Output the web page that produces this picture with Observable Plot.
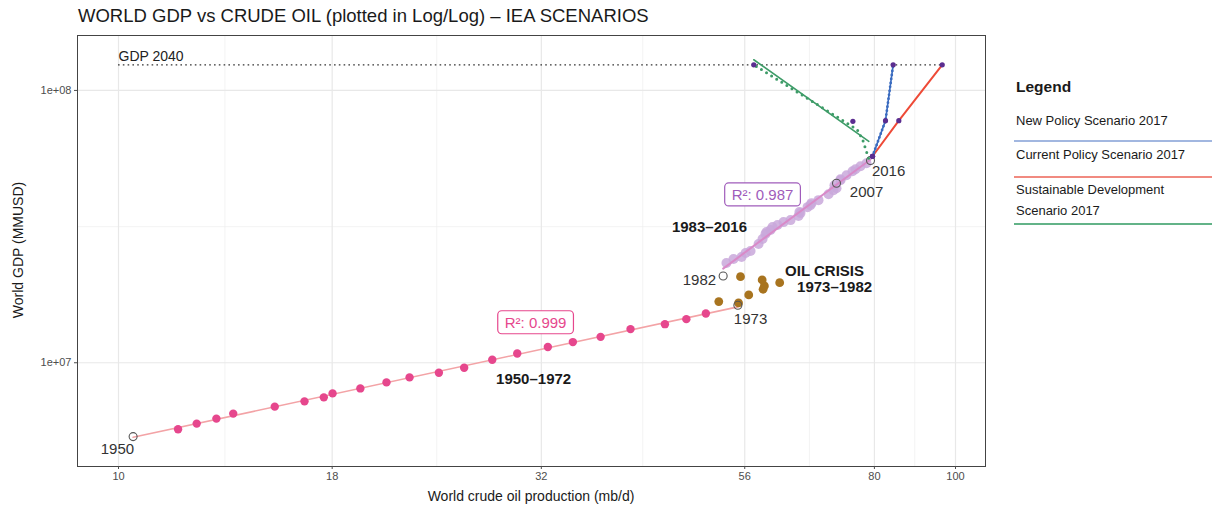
<!DOCTYPE html>
<html><head><meta charset="utf-8">
<script src="https://cdn.jsdelivr.net/npm/d3@7"></script>
<script src="https://cdn.jsdelivr.net/npm/@observablehq/plot@0.6"></script>
<style>
body{margin:0;background:#fff;font-family:"Liberation Sans",Arial,Helvetica,sans-serif;}
#wrap{position:relative;width:1228px;height:511px;overflow:hidden;}
#chart{position:absolute;left:0;top:0;}
#title{position:absolute;left:78px;top:5px;font-size:18.5px;color:#1a1a1a;white-space:nowrap;}
.axt{position:absolute;font-size:14px;color:#1a1a1a;white-space:nowrap;}
#xlab{left:531px;top:488px;transform:translateX(-50%);}
#ylab{left:18px;top:250px;transform:translate(-50%,-50%) rotate(-90deg);}
.lg{position:absolute;left:1016px;white-space:nowrap;color:#1a1a1a;font-size:13px;}
.lgt{font-weight:bold;font-size:15.5px;}
.ll{position:absolute;left:1014px;width:198px;height:2px;}
</style></head><body>
<div id="wrap">
  <div id="chart"></div>
  <div id="title">WORLD GDP vs CRUDE OIL (plotted in Log/Log) – IEA SCENARIOS</div>
  <div class="axt" id="xlab">World crude oil production (mb/d)</div>
  <div class="axt" id="ylab">World GDP (MMUSD)</div>
</div>
<script>
// ---------- data ----------
const earlyYears = [1950,1951,1952,1953,1954,1955,1956,1957,1958,1959,1960,1961,1962,1963,1964,1965,1966,1967,1968,1969,1970,1971,1972,1973];
const earlyOil = [10.41,11.78,12.40,13.09,13.71,15.37,16.68,17.59,18.02,19.45,20.90,22.27,24.14,25.88,27.96,29.95,32.58,34.90,37.67,40.90,44.96,47.69,50.32,54.95];
const earlyGdp = [5.356e6,5.697e6,5.978e6,6.236e6,6.505e6,6.90e6,7.215e6,7.463e6,7.718e6,8.05e6,8.47e6,8.837e6,9.192e6,9.587e6,1.026e7,1.082e7,1.142e7,1.191e7,1.245e7,1.329e7,1.386e7,1.446e7,1.516e7,1.627e7];

const crisisYears = [1974,1975,1976,1977,1978,1979,1980,1981];
const crisisOil = [55.05,52.14,56.62,58.90,59.11,61.65,58.75,55.35];
const crisisGdp = [1.659e7,1.677e7,1.775e7,1.862e7,1.915e7,1.969e7,2.014e7,2.071e7];

const lateYears = [1982,1983,1984,1985,1986,1987,1988,1989,1990,1991,1992,1993,1994,1995,1996,1997,1998,1999,2000,2001,2002,2003,2004,2005,2006,2007,2008,2009,2010,2011,2012,2013,2014,2015,2016];
const lateOil = [52.77,53.25,54.30,55.51,56.13,56.90,58.17,58.81,59.29,59.46,60.12,60.45,61.29,62.31,63.52,64.93,65.28,65.10,66.56,67.11,67.30,68.60,70.52,71.49,72.08,72.08,72.88,71.68,72.88,74.10,75.33,75.95,77.00,78.29,79.15];
const lateGdp = [2.083e7,2.324e7,2.404e7,2.445e7,2.529e7,2.572e7,2.729e7,2.847e7,2.969e7,3.020e7,3.071e7,3.150e7,3.203e7,3.285e7,3.341e7,3.456e7,3.544e7,3.574e7,3.728e7,3.792e7,3.856e7,3.955e7,4.159e7,4.302e7,4.375e7,4.563e7,4.680e7,4.487e7,4.721e7,4.883e7,5.050e7,5.136e7,5.267e7,5.402e7,5.527e7];

const markedYears = [1950,1973,1982,2007,2016];

const scenarioYears = [2016,2025,2040];
const npsOil = [79.59,82.48,84.24];
const npsGdp = [5.731e7,7.745e7,1.242e8];
const cpsOil = [79.59,85.56,96.41];
const cpsGdp = [5.731e7,7.745e7,1.242e8];
const sdsOil = [79.59,75.40,57.41];
const sdsGdp = [5.731e7,7.70e7,1.242e8];
const sdsPathOil = [78.73,77.43,76.31,57.41];
const sdsPathGdp = [5.635e7,6.61e7,7.18e7,1.242e8];
const sdsFitOil = [78.78,57.41];
const sdsFitGdp = [6.505e7,1.296e8];

const gdp2040 = 1.242e8;
const gdp2040Span = [10, 96.41];

const xTicks = [10,18,32,56,80,100];
const xMinor = [13.4,24,42.3,66.9,89.4];
const yTicks = [1e7,1e8];
const yTickLabels = ["1e+07","1e+08"];
const yMinor = [3.16e7];

const yearLabels = [
  {text:"1950", x:9.97, y:4.80e6},
  {text:"1973", x:56.9, y:1.45e7},
  {text:"1982", x:49.44, y:2.014e7},
  {text:"2007", x:78.29, y:4.23e7},
  {text:"2016", x:83.18, y:5.05e7}
];
const periodLabels = [
  {text:"1950–1972", x:31.33, y:8.74e6},
  {text:"1983–2016", x:50.82, y:3.15e7},
  {text:"OIL CRISIS", x:69.75, y:2.173e7},
  {text:"1973–1982", x:71.70, y:1.898e7}
];
const r2Labels = [
  {text:"R²: 0.999", x:31.5, y:1.40e7, color:"#e6478d"},
  {text:"R²: 0.987", x:58.81, y:4.125e7, color:"#a05cbb"}
];
const gdpLabel = [{text:"GDP 2040", x:10, y:1.332e8}];

const legendItems = [
  {label:"New Policy Scenario 2017", color:"#a2b7e0"},
  {label:"Current Policy Scenario 2017", color:"#f18a80"},
  {label:"Sustainable Development\nScenario 2017", color:"#63b388"}
];

// ---------- tables ----------
const early = earlyYears.map((y,i)=>({year:y, oil:earlyOil[i], gdp:earlyGdp[i]}));
const crisis = crisisYears.map((y,i)=>({year:y, oil:crisisOil[i], gdp:crisisGdp[i]}));
const late = lateYears.map((y,i)=>({year:y, oil:lateOil[i], gdp:lateGdp[i]}));
const allHist = early.concat(crisis, late);
const marked = allHist.filter(d=>markedYears.includes(d.year));
const earlyFilled = early.filter(d=>!markedYears.includes(d.year));
const lateFilled = late.filter(d=>!markedYears.includes(d.year));
const mk = (o,g)=>scenarioYears.map((y,i)=>({year:y, oil:o[i], gdp:g[i]}));
const nps = mk(npsOil,npsGdp), cps = mk(cpsOil,cpsGdp), sds = mk(sdsOil,sdsGdp);
const sdsPath = sdsPathOil.map((o,i)=>({oil:o, gdp:sdsPathGdp[i]}));
const sdsFit = sdsFitOil.map((o,i)=>({oil:o, gdp:sdsFitGdp[i]}));

const BLUE="#3b6cc0", RED="#ee4a37", GREEN="#3e9c68", DOT="#5b2d90";

const plot = Plot.plot({
  width: 1000, height: 511,
  marginTop: 35, marginBottom: 45, marginLeft: 77, marginRight: 15,
  style: {fontFamily:'"Liberation Sans",Arial,sans-serif', background:"transparent", overflow:"visible"},
  x: {type:"log", domain:[8.933,108.6]},
  y: {type:"log", domain:[4.16e6,1.591e8]},
  marks: [
    Plot.ruleX(xMinor, {stroke:"#eeeeee", strokeWidth:0.7}),
    Plot.ruleY(yMinor, {stroke:"#eeeeee", strokeWidth:0.7}),
    Plot.ruleX(xTicks, {stroke:"#e8e8e8", strokeWidth:1.2}),
    Plot.ruleY(yTicks, {stroke:"#e8e8e8", strokeWidth:1.2}),
    Plot.frame({stroke:"#444", strokeWidth:1}),
    Plot.axisX({ticks:xTicks, tickFormat:d=>String(d), tickSize:3, tickPadding:3, fontSize:11, label:null, color:"#4d4d4d"}),
    Plot.axisY({ticks:yTicks, tickFormat:d=>yTickLabels[yTicks.indexOf(d)], tickSize:3, tickPadding:3, fontSize:11, label:null, color:"#4d4d4d"}),
    // GDP 2040 line
    Plot.ruleY([gdp2040], {x1:gdp2040Span[0], x2:gdp2040Span[1], stroke:"#333", strokeWidth:1.3, strokeDasharray:"1.6,3.2"}),
    // historical
    Plot.dot(lateFilled, {x:"oil", y:"gdp", r:5, fill:"#c9a8da", fillOpacity:0.85}),
    Plot.linearRegressionY(early, {x:"oil", y:"gdp", ci:0, stroke:"#f3a3a6", strokeWidth:1.6}),
    Plot.linearRegressionY(late, {x:"oil", y:"gdp", ci:0, stroke:"#d98ac8", strokeWidth:2}),
    Plot.dot(earlyFilled, {x:"oil", y:"gdp", r:4.2, fill:"#e6478d"}),
    Plot.dot(crisis, {x:"oil", y:"gdp", r:4.4, fill:"#a8741f"}),
    Plot.dot(marked, {x:"oil", y:"gdp", r:4, stroke:"#555", strokeWidth:1.1, fill:"none"}),
    // scenarios
    Plot.line(sdsFit, {x:"oil", y:"gdp", stroke:GREEN, strokeWidth:1.6}),
    Plot.line(sdsPath, {x:"oil", y:"gdp", stroke:GREEN, strokeWidth:3, strokeDasharray:"0,6", strokeLinecap:"round"}),
    Plot.line(cps, {x:"oil", y:"gdp", stroke:RED, strokeWidth:2}),
    Plot.line(nps, {x:"oil", y:"gdp", stroke:BLUE, strokeWidth:1.6}),
    Plot.line(nps, {x:"oil", y:"gdp", stroke:BLUE, strokeWidth:2.8, strokeDasharray:"0,4", strokeLinecap:"round"}),
    Plot.dot(sds.concat(nps, cps), {x:"oil", y:"gdp", r:2.6, fill:DOT}),
    // labels
    Plot.text(gdpLabel, {x:"x", y:"y", text:"text", textAnchor:"start", fontSize:14, fill:"#222"}),
    Plot.text(yearLabels, {x:"x", y:"y", text:"text", fontSize:15, fill:"#333"}),
    Plot.text(periodLabels, {x:"x", y:"y", text:"text", fontSize:15, fontWeight:"bold", fill:"#1a1a1a"}),
    Plot.text(r2Labels, {x:"x", y:"y", text:"text", fontSize:15, fill:d=>d.color, className:"r2lab"})
  ]
});
document.getElementById("chart").appendChild(plot);

// boxes round the R² labels (same transform as each text)
d3.select(plot).selectAll(".r2lab text").each(function(){
  const b = this.getBBox();
  const col = this.getAttribute("fill");
  const tr = this.getAttribute("transform");
  const rect = d3.select(this.parentNode).insert("rect", () => this)
    .attr("x", b.x-7).attr("y", b.y-3).attr("width", b.width+14).attr("height", b.height+6)
    .attr("rx", 4).attr("fill", "#fff").attr("stroke", col).attr("stroke-width", 1.2);
  if (tr) rect.attr("transform", tr);
});

// legend
const lg = document.getElementById("wrap");
const addDiv = (cls, text, top, extra) => {
  const el = document.createElement("div");
  el.className = cls; el.textContent = text; el.style.top = top + "px";
  if (extra) Object.assign(el.style, extra);
  lg.appendChild(el);
};
addDiv("lg lgt", "Legend", 78);
const textTops = [[113],[147],[182,203]];
const lineTops = [140,176,223];
legendItems.forEach((it,i)=>{
  it.label.split("\n").forEach((line,j)=>addDiv("lg", line, textTops[i][j]));
  addDiv("ll", "", lineTops[i], {background: it.color});
});
</script>
</body></html>
